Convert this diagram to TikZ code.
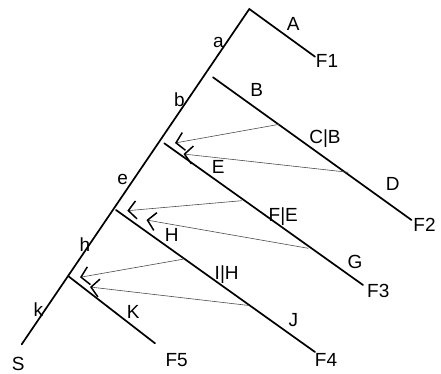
\documentclass[tikz,border=0pt]{standalone}
\usepackage{fontspec}
\setmainfont{Liberation Sans}
\usetikzlibrary{arrows.meta}
\begin{document}
\begin{tikzpicture}[x=1pt,y=-1pt,
  branch/.style={line width=1.7pt,line cap=round},
  link/.style={line width=0.6pt,black!70,-{Straight Barb[length=8pt,width=18pt,line width=1.5pt,color=black]}},
  lbl/.style={inner sep=0pt,font=\fontsize{19}{21}\selectfont,text height=13.5pt,text depth=0pt}]
\useasboundingbox (0,0) rectangle (441,374);
% trunk and branches
\coordinate (s) at (21.7,344.3);
\coordinate (top) at (249.3,9);
\coordinate (f1) at (315,56.7);
\coordinate (b0) at (213,77.3);
\coordinate (f2) at (411.5,220);
\coordinate (e0) at (164.3,143.3);
\coordinate (f3) at (363,285);
\coordinate (h0) at (116,210);
\coordinate (f4) at (315,352);
\coordinate (k0) at (69,276.7);
\coordinate (f5) at (155,343.3);
\draw[branch] (s) -- (top) -- (f1);
\draw[branch] (b0) -- (f2);
\draw[branch] (e0) -- (f3);
\draw[branch] (h0) -- (f4);
\draw[branch] (k0) -- (f5);
% link tails and heads
\coordinate (t1) at (279.3,124.3); \coordinate (p1) at (175,143);
\coordinate (t2) at (348.3,172.3); \coordinate (p2) at (183.5,154);
\coordinate (t3) at (241.7,200.7); \coordinate (p3) at (127.3,210.7);
\coordinate (t4) at (308.3,248.3); \coordinate (p4) at (146.5,220);
\coordinate (t5) at (183,259.2); \coordinate (p5) at (80,277.3);
\coordinate (t6) at (249,305.5); \coordinate (p6) at (90,287);
\draw[link] (t1) -- (p1);
\draw[link] (t2) -- (p2);
\draw[link] (t3) -- (p3);
\draw[link] (t4) -- (p4);
\draw[link] (t5) -- (p5);
\draw[link] (t6) -- (p6);
% labels
\node[lbl] (lA) at (293.3,24) {A};
\node[lbl] (lF1) at (327,61) {F1};
\node[lbl] (la) at (218.3,41) {a};
\node[lbl] (lb) at (179.3,100) {b};
\node[lbl] (lB) at (256.7,90) {B};
\node[lbl] (lCB) at (325,136.7) {C|B};
\node[lbl] (lD) at (392.7,183.3) {D};
\node[lbl] (lF2) at (424.5,225) {F2};
\node[lbl] (lE) at (218.3,166.7) {E};
\node[lbl] (le) at (122.7,177.5) {e};
\node[lbl] (lFE) at (283.3,215) {F|E};
\node[lbl] (lG) at (355,261.7) {G};
\node[lbl] (lF3) at (378.3,290.7) {F3};
\node[lbl] (lH) at (171.7,235) {H};
\node[lbl] (lh) at (85,245) {h};
\node[lbl] (lIH) at (226.7,272.7) {I|H};
\node[lbl] (lJ) at (293.3,320) {J};
\node[lbl] (lF4) at (326,359.3) {F4};
\node[lbl] (lK) at (133.3,311.7) {K};
\node[lbl] (lk) at (38.3,310) {k};
\node[lbl] (lF5) at (176.7,359.3) {F5};
\node[lbl] (lS) at (18.3,364) {S};
\end{tikzpicture}
\end{document}
